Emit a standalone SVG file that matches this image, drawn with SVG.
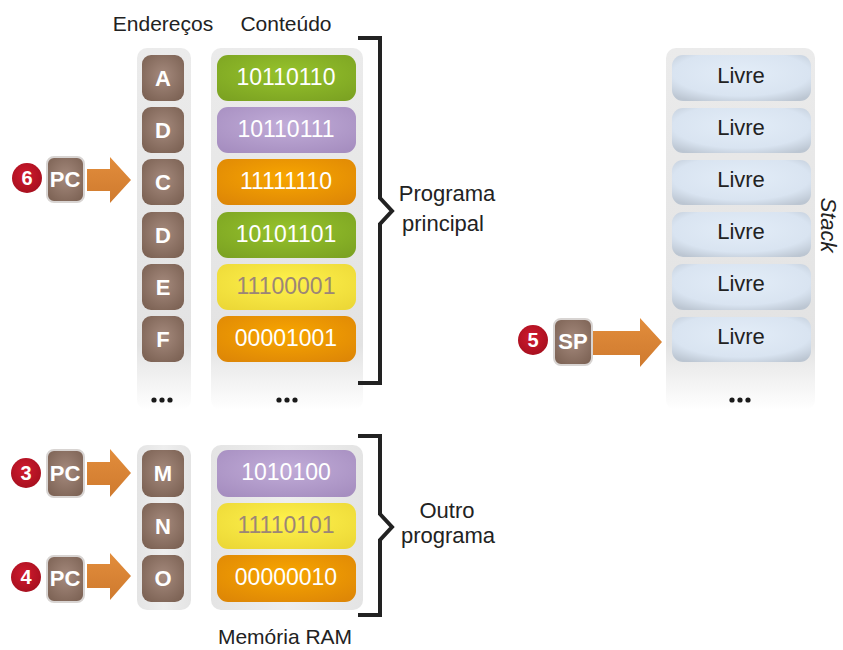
<svg xmlns="http://www.w3.org/2000/svg" width="843" height="650" viewBox="0 0 843 650">
<defs>
  <linearGradient id="colFade" x1="0" y1="0" x2="0" y2="1">
    <stop offset="0" stop-color="#ebebeb"/>
    <stop offset="0.82" stop-color="#e3e3e3"/>
    <stop offset="1" stop-color="#ffffff"/>
  </linearGradient>
  <linearGradient id="colSolid" x1="0" y1="0" x2="1" y2="0">
    <stop offset="0" stop-color="#e4e4e4"/>
    <stop offset="0.5" stop-color="#eeeeee"/>
    <stop offset="1" stop-color="#e4e4e4"/>
  </linearGradient>
  <radialGradient id="gBrown" cx="50%" cy="45%" r="65%">
    <stop offset="0" stop-color="#a58a7d"/>
    <stop offset="1" stop-color="#7c6254"/>
  </radialGradient>
  <radialGradient id="gGreen" cx="50%" cy="40%" r="70%">
    <stop offset="0" stop-color="#96c32c"/>
    <stop offset="1" stop-color="#7ca322"/>
  </radialGradient>
  <radialGradient id="gPurple" cx="50%" cy="40%" r="70%">
    <stop offset="0" stop-color="#c1acd8"/>
    <stop offset="1" stop-color="#a68ec0"/>
  </radialGradient>
  <radialGradient id="gOrange" cx="50%" cy="40%" r="70%">
    <stop offset="0" stop-color="#f8a600"/>
    <stop offset="1" stop-color="#de8706"/>
  </radialGradient>
  <radialGradient id="gYellow" cx="50%" cy="40%" r="70%">
    <stop offset="0" stop-color="#fff24c"/>
    <stop offset="1" stop-color="#ecd837"/>
  </radialGradient>
  <radialGradient id="gBlue" cx="50%" cy="40%" r="70%">
    <stop offset="0" stop-color="#e3edf8"/>
    <stop offset="0.7" stop-color="#d9e4f1"/>
    <stop offset="1" stop-color="#bcc6d2"/>
  </radialGradient>
  <linearGradient id="gArrow" x1="0" y1="0" x2="0" y2="1">
    <stop offset="0" stop-color="#e28d3c"/>
    <stop offset="1" stop-color="#cf7a2e"/>
  </linearGradient>
  <radialGradient id="gRed" cx="45%" cy="40%" r="60%">
    <stop offset="0" stop-color="#d01a2e"/>
    <stop offset="1" stop-color="#a8101f"/>
  </radialGradient>
</defs>
<style>
  text { font-family: "Liberation Sans", Arial, sans-serif; }
  .hdr { font-size: 21px; fill: #222; }
  .lbl { font-size: 22px; fill: #222; }
  .addr rect { fill: url(#gBrown); }
  .addr text { font-size: 22px; fill: #fff; font-weight: bold; text-anchor: middle; }
  .val { font-size: 23px; fill: #fff; text-anchor: middle; }
  .val.dim { fill: #9c8676; }
  .livre rect { fill: url(#gBlue); }
  .livre text { font-size: 22px; fill: #222; text-anchor: middle; }
  .reg rect { fill: url(#gBrown); stroke: #d8d4d2; stroke-width: 2; }
  .reg text { font-size: 22px; font-weight: bold; fill: #fff; text-anchor: middle; }
  .num circle { fill: url(#gRed); }
  .num text { font-size: 20px; font-weight: bold; fill: #fff; text-anchor: middle; }
  .arrow { fill: url(#gArrow); }
  .brace { fill: none; stroke: #222; stroke-width: 4; stroke-linejoin: miter; }
  .dots circle { fill: #1a1a1a; }
</style>

<!-- column backgrounds -->
<g id="backgrounds">
  <rect x="137" y="48" width="54" height="362" rx="10" fill="url(#colFade)"/>
  <rect x="211" y="48" width="152" height="362" rx="10" fill="url(#colFade)"/>
  <rect x="666" y="48" width="149" height="362" rx="10" fill="url(#colFade)"/>
  <rect x="137" y="445" width="54" height="165" rx="10" fill="url(#colSolid)"/>
  <rect x="211" y="445" width="152" height="165" rx="10" fill="url(#colSolid)"/>
</g>

<!-- headers -->
<g id="headers">
  <text class="hdr" x="163" y="31" text-anchor="middle">Endereços</text>
  <text class="hdr" x="286" y="31" text-anchor="middle">Conteúdo</text>
  <text class="hdr" x="285" y="644" text-anchor="middle">Memória RAM</text>
</g>

<!-- address column -->
<g id="addr-A" class="addr"><rect x="142" y="55" width="42" height="46" rx="9"/><text x="163" y="86">A</text></g>
<g id="addr-D1" class="addr"><rect x="142" y="107" width="42" height="46" rx="9"/><text x="163" y="138">D</text></g>
<g id="addr-C" class="addr"><rect x="142" y="159" width="42" height="46" rx="9"/><text x="163" y="190">C</text></g>
<g id="addr-D2" class="addr"><rect x="142" y="212" width="42" height="46" rx="9"/><text x="163" y="243">D</text></g>
<g id="addr-E" class="addr"><rect x="142" y="264" width="42" height="46" rx="9"/><text x="163" y="295">E</text></g>
<g id="addr-F" class="addr"><rect x="142" y="316" width="42" height="46" rx="9"/><text x="163" y="347">F</text></g>
<g id="addr-M" class="addr"><rect x="142" y="450" width="42" height="47" rx="9"/><text x="163" y="481">M</text></g>
<g id="addr-N" class="addr"><rect x="142" y="503" width="42" height="46" rx="9"/><text x="163" y="534">N</text></g>
<g id="addr-O" class="addr"><rect x="142" y="555" width="42" height="47" rx="9"/><text x="163" y="586">O</text></g>

<!-- content column -->
<g id="val-1"><rect x="217" y="55" width="139" height="46" rx="11" fill="url(#gGreen)"/><text class="val" x="286" y="85">10110110</text></g>
<g id="val-2"><rect x="217" y="107" width="139" height="46" rx="11" fill="url(#gPurple)"/><text class="val" x="286" y="137">10110111</text></g>
<g id="val-3"><rect x="217" y="159" width="139" height="46" rx="11" fill="url(#gOrange)"/><text class="val" x="286" y="189">11111110</text></g>
<g id="val-4"><rect x="217" y="212" width="139" height="46" rx="11" fill="url(#gGreen)"/><text class="val" x="286" y="242">10101101</text></g>
<g id="val-5"><rect x="217" y="264" width="139" height="46" rx="11" fill="url(#gYellow)"/><text class="val dim" x="286" y="294">11100001</text></g>
<g id="val-6"><rect x="217" y="316" width="139" height="46" rx="11" fill="url(#gOrange)"/><text class="val" x="286" y="346">00001001</text></g>
<g id="val-7"><rect x="217" y="450" width="139" height="47" rx="11" fill="url(#gPurple)"/><text class="val" x="286" y="480">1010100</text></g>
<g id="val-8"><rect x="217" y="503" width="139" height="46" rx="11" fill="url(#gYellow)"/><text class="val dim" x="286" y="533">11110101</text></g>
<g id="val-9"><rect x="217" y="555" width="139" height="47" rx="11" fill="url(#gOrange)"/><text class="val" x="286" y="585">00000010</text></g>

<g id="ellipses" class="dots">
  <circle cx="154" cy="400" r="2.6"/><circle cx="162" cy="400" r="2.6"/><circle cx="170" cy="400" r="2.6"/>
  <circle cx="279" cy="400" r="2.6"/><circle cx="287" cy="400" r="2.6"/><circle cx="295" cy="400" r="2.6"/>
  <circle cx="732" cy="400" r="2.6"/><circle cx="740" cy="400" r="2.6"/><circle cx="748" cy="400" r="2.6"/>
</g>

<!-- braces and labels -->
<g id="brace-main">
  <path class="brace" d="M358,38 H380 V198 L392,211 L380,224 V383 H358"/>
  <text class="lbl" x="447" y="201" text-anchor="middle">Programa</text>
  <text class="lbl" x="443" y="231" text-anchor="middle">principal</text>
</g>
<g id="brace-other">
  <path class="brace" d="M358,436 H380 V514 L392,527 L380,540 V615 H358"/>
  <text class="lbl" x="447" y="518" text-anchor="middle">Outro</text>
  <text class="lbl" x="448" y="543" text-anchor="middle">programa</text>
</g>

<!-- stack -->
<g id="stack-1" class="livre"><rect x="672" y="55" width="139" height="46" rx="11"/><text x="741" y="83">Livre</text></g>
<g id="stack-2" class="livre"><rect x="672" y="108" width="139" height="45" rx="11"/><text x="741" y="135">Livre</text></g>
<g id="stack-3" class="livre"><rect x="672" y="160" width="139" height="45" rx="11"/><text x="741" y="187">Livre</text></g>
<g id="stack-4" class="livre"><rect x="672" y="212" width="139" height="45" rx="11"/><text x="741" y="239">Livre</text></g>
<g id="stack-5" class="livre"><rect x="672" y="264" width="139" height="46" rx="11"/><text x="741" y="291">Livre</text></g>
<g id="stack-6" class="livre"><rect x="672" y="317" width="139" height="45" rx="11"/><text x="741" y="344">Livre</text></g>
<g id="stack-label"><text x="821" y="225" transform="rotate(90 821 225)" text-anchor="middle" font-size="22" font-style="italic" fill="#222">Stack</text></g>

<!-- registers -->
<g id="reg-pc6">
  <g class="num"><circle cx="27" cy="178" r="15"/><text x="27" y="185">6</text></g>
  <g class="reg"><rect x="47" y="157" width="37" height="45" rx="7"/><text x="65" y="187">PC</text></g>
</g>
<g id="reg-pc3">
  <g class="num"><circle cx="26" cy="473" r="15"/><text x="26" y="480">3</text></g>
  <g class="reg"><rect x="47" y="450" width="37" height="47" rx="7"/><text x="65" y="481">PC</text></g>
</g>
<g id="reg-pc4">
  <g class="num"><circle cx="26" cy="577" r="15"/><text x="26" y="584">4</text></g>
  <g class="reg"><rect x="47" y="556" width="37" height="46" rx="7"/><text x="65" y="586">PC</text></g>
</g>
<g id="reg-sp5">
  <g class="num"><circle cx="533" cy="340" r="15"/><text x="533" y="347">5</text></g>
  <g class="reg"><rect x="554" y="319" width="38" height="46" rx="7"/><text x="573" y="349">SP</text></g>
</g>

<!-- connectors -->
<g id="connectors">
  <path class="arrow" d="M87,169 H110 V157 L131,180 L110,203 V191 H87 Z"/>
  <path class="arrow" d="M87,462 H110 V449 L131,473 L110,497 V485 H87 Z"/>
  <path class="arrow" d="M87,564 H110 V553 L131,576 L110,600 V588 H87 Z"/>
  <path class="arrow" d="M593,331 H640 V318 L662,342 L640,367 V355 H593 Z"/>
</g>
</svg>
